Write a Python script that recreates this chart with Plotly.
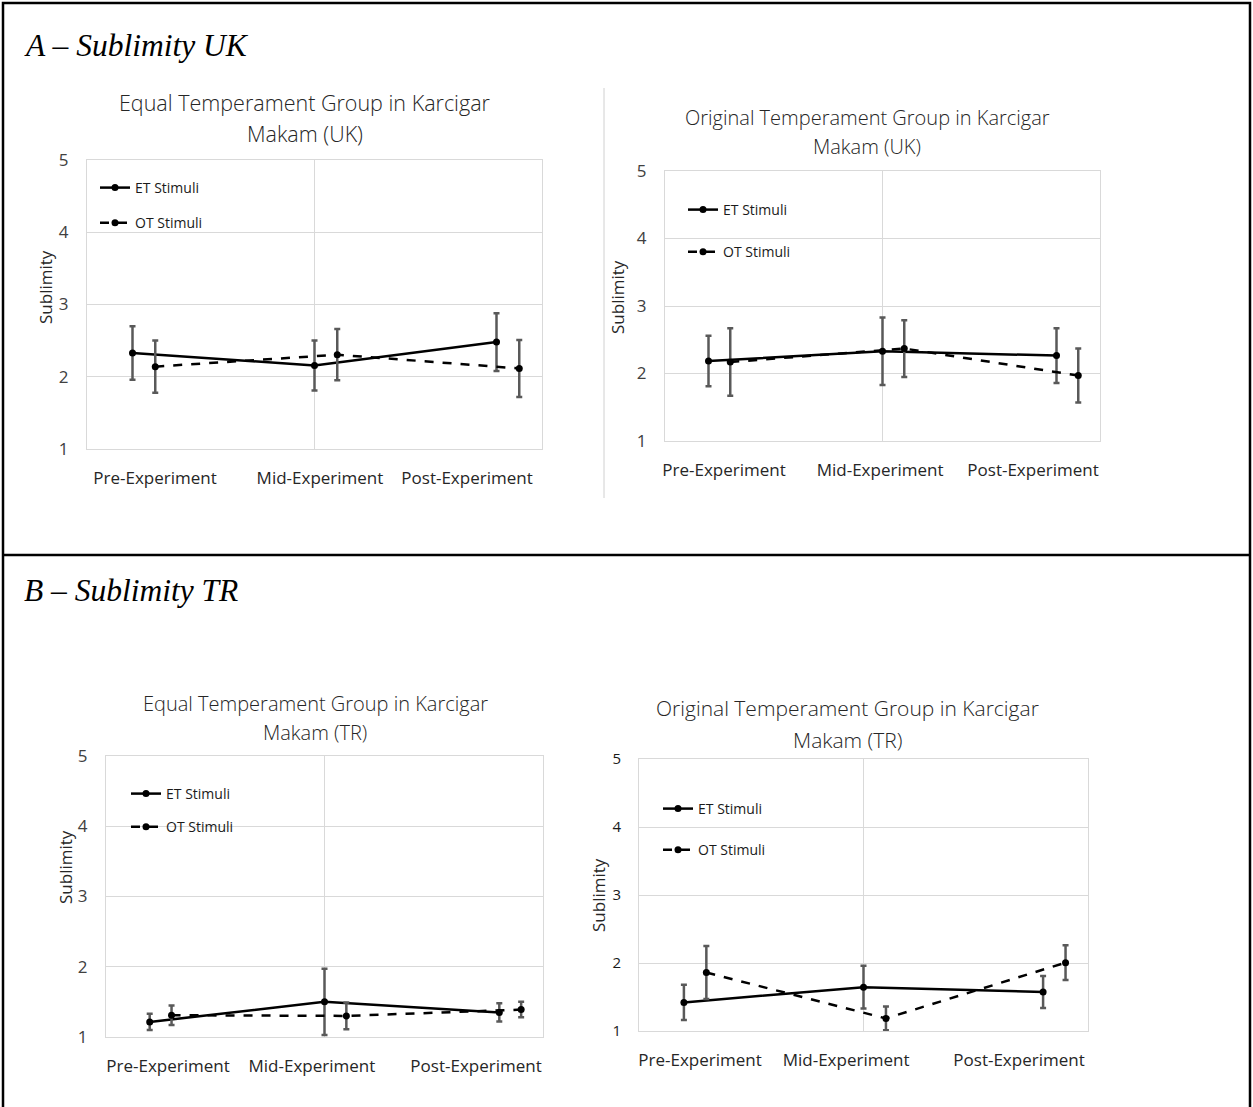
import plotly.graph_objects as go

W, H = 1253, 1107

categories = ["Pre-Experiment", "Mid-Experiment", "Post-Experiment"]
series_names = ["ET Stimuli", "OT Stimuli"]
y_tick_values = [1, 2, 3, 4, 5]
section_labels = ["A – Sublimity UK", "B – Sublimity TR"]
axis_label = "Sublimity"

titles = [
    ["Equal Temperament Group in Karcigar", "Makam (UK)"],
    ["Original Temperament Group in Karcigar", "Makam (UK)"],
    ["Equal Temperament Group in Karcigar", "Makam (TR)"],
    ["Original Temperament Group in Karcigar", "Makam (TR)"],
]

# means and error-bar half-lengths
uk_eq_et_mean = [2.33, 2.155, 2.48]
uk_eq_et_err = [0.37, 0.345, 0.40]
uk_eq_ot_mean = [2.14, 2.305, 2.115]
uk_eq_ot_err = [0.36, 0.355, 0.395]

uk_or_et_mean = [2.185, 2.33, 2.265]
uk_or_et_err = [0.375, 0.50, 0.405]
uk_or_ot_mean = [2.17, 2.37, 1.97]
uk_or_ot_err = [0.50, 0.42, 0.40]

tr_eq_et_mean = [1.215, 1.50, 1.35]
tr_eq_et_err = [0.115, 0.47, 0.13]
tr_eq_ot_mean = [1.31, 1.30, 1.39]
tr_eq_ot_err = [0.14, 0.19, 0.11]

tr_or_et_mean = [1.42, 1.645, 1.575]
tr_or_et_err = [0.26, 0.315, 0.235]
tr_or_ot_mean = [1.86, 1.185, 2.005]
tr_or_ot_err = [0.39, 0.175, 0.255]

data = [
    (uk_eq_et_mean, uk_eq_et_err, uk_eq_ot_mean, uk_eq_ot_err),
    (uk_or_et_mean, uk_or_et_err, uk_or_ot_mean, uk_or_ot_err),
    (tr_eq_et_mean, tr_eq_et_err, tr_eq_ot_mean, tr_eq_ot_err),
    (tr_or_et_mean, tr_or_et_err, tr_or_ot_mean, tr_or_ot_err),
]

# ---- layout (pixel geometry) ----
panels = [
    dict(box=(87, 542, 160, 449), title_x=305, title_y=(102, 133), title_size=21.5,
         ylab=(45, 287), label_pos=[1.124, 2.03, 2.838], legend=(95, 172), gap=14,
         tick_size=17, tick_color="#404040"),
    dict(box=(665, 1100, 171, 441), title_x=867, title_y=(117, 147), title_size=20,
         ylab=(617, 297), label_pos=[1.089, 1.986, 2.865], legend=(683, 194), gap=21,
         tick_size=17, tick_color="#404040"),
    dict(box=(106, 543, 756, 1037), title_x=315, title_y=(703, 732), title_size=20,
         ylab=(65, 867), label_pos=[1.105, 1.928, 2.867], legend=(126, 778), gap=12,
         tick_size=17, tick_color="#404040"),
    dict(box=(639, 1088, 759, 1031), title_x=847, title_y=(708, 740), title_size=21,
         ylab=(598, 895), label_pos=[1.09, 1.903, 2.866], legend=(658, 793), gap=20,
         tick_size=15, tick_color="#1a1a1a"),
]

FONT = "Open Sans"
dodge = 0.125

fig = go.Figure()
annotations = []
layout_extra = {}

for i, (p, (et_m, et_e, ot_m, ot_e)) in enumerate(zip(panels, data)):
    n = i + 1
    xa = "x" if n == 1 else f"x{n}"
    ya = "y" if n == 1 else f"y{n}"
    lg = "legend" if n == 1 else f"legend{n}"
    base = [k + 1 for k in range(len(categories))]
    x_et = base
    x_ot = [b + dodge for b in base]
    for name, xs, m, e, dash in [(series_names[0], x_et, et_m, et_e, "solid"),
                                 (series_names[1], x_ot, ot_m, ot_e, "dash")]:
        fig.add_trace(go.Scatter(
            x=xs, y=m, name=name, mode="lines+markers",
            line=dict(color="black", width=2.5, dash=dash),
            marker=dict(color="black", size=7),
            error_y=dict(type="data", array=e, visible=True, color="#595959",
                         thickness=2.5, width=3),
            xaxis=xa, yaxis=ya, legend=lg, legendgroup=f"{lg}_{name}",
            hovertext=categories,
        ))
    x0, x1, yt, yb = p["box"]
    xdom = [x0 / W, x1 / W]
    ydom = [1 - yb / H, 1 - yt / H]
    layout_extra["xaxis" if n == 1 else f"xaxis{n}"] = dict(
        domain=xdom, range=[0.75, 3.25], anchor=ya, automargin=False,
        tickmode="array", tickvals=p["label_pos"], ticktext=categories,
        showgrid=False, zeroline=False, ticks="",
        showline=True, mirror=True, linecolor="#d9d9d9", linewidth=1,
        tickfont=dict(family=FONT, size=17, color="#262626"),
        ticklabelstandoff=14,
        minor=dict(tickmode="array", tickvals=[2], showgrid=True,
                   gridcolor="#d9d9d9", gridwidth=1, ticks=""),
    )
    layout_extra["yaxis" if n == 1 else f"yaxis{n}"] = dict(
        domain=ydom, range=[1, 5], anchor=xa, automargin=False,
        tickmode="array", tickvals=y_tick_values,
        showgrid=True, gridcolor="#d9d9d9", gridwidth=1, zeroline=False, ticks="",
        showline=True, mirror=True, linecolor="#d9d9d9", linewidth=1,
        tickfont=dict(family=FONT, size=p["tick_size"], color=p["tick_color"]),
        ticklabelstandoff=14,
    )
    lx, ly = p["legend"]
    layout_extra[lg] = dict(
        x=lx / W, y=1 - ly / H, xanchor="left", yanchor="top",
        bgcolor="rgba(0,0,0,0)", borderwidth=0,
        font=dict(family=FONT, size=14, color="#1a1a1a"),
        traceorder="grouped", tracegroupgap=p["gap"], itemwidth=30,
    )
    for line_text, ty in zip(titles[i], p["title_y"]):
        annotations.append(dict(
            text=line_text, x=p["title_x"] / W, y=1 - ty / H,
            xref="paper", yref="paper", xanchor="center", yanchor="middle",
            showarrow=False,
            font=dict(family=FONT, size=p["title_size"], color="#262626", weight=300),
        ))
    annotations.append(dict(
        text=axis_label, x=p["ylab"][0] / W, y=1 - p["ylab"][1] / H,
        xref="paper", yref="paper", xanchor="center", yanchor="middle",
        textangle=-90, showarrow=False,
        font=dict(family=FONT, size=17, color="#262626"),
    ))

for label, ty in zip(section_labels, [45, 590]):
    annotations.append(dict(
        text=f"<i>{label}</i>", x=22 / W, y=1 - ty / H,
        xref="paper", yref="paper", xanchor="left", yanchor="middle",
        showarrow=False, font=dict(family="Liberation Serif", size=31.5, color="black"),
    ))

shapes = [
    dict(type="rect", xref="paper", yref="paper", x0=3 / W, x1=1250 / W,
         y0=1 - 1115 / H, y1=1 - 3 / H, line=dict(color="black", width=2.5)),
    dict(type="line", xref="paper", yref="paper", x0=3 / W, x1=1250 / W,
         y0=1 - 555 / H, y1=1 - 555 / H, line=dict(color="black", width=2.5)),
    dict(type="line", xref="paper", yref="paper", x0=604 / W, x1=604 / W,
         y0=1 - 498 / H, y1=1 - 88 / H, line=dict(color="#d0d0d0", width=1)),
]

fig.update_layout(
    width=W, height=H,
    margin=dict(l=0, r=0, t=0, b=0, pad=0, autoexpand=False),
    paper_bgcolor="white", plot_bgcolor="white",
    annotations=annotations, shapes=shapes, showlegend=True,
    **layout_extra,
)

fig.write_html("out.html")
